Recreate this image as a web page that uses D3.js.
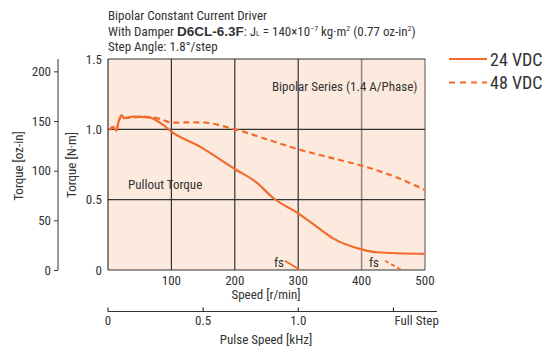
<!DOCTYPE html>
<html><head><meta charset="utf-8">
<script src="https://cdn.jsdelivr.net/npm/d3@7"></script>
<style>
body{margin:0;background:#fff;}
svg text{font-family:"Liberation Sans Narrow","Roboto Condensed","Liberation Sans",Arial,sans-serif;fill:#333;}
</style></head>
<body><svg id="c" width="551" height="346"></svg>
<script>
// Data (speed r/min, torque N·m)
const speed24 = [3, 8, 13, 17, 22, 25, 40, 66, 87, 100, 145, 200, 234, 261, 300, 329, 355, 400, 424, 500];
const torque24 = [0.996, 1.017, 0.99, 1.06, 1.10, 1.08, 1.09, 1.083, 1.031, 0.984, 0.877, 0.718, 0.623, 0.51, 0.403, 0.308, 0.225, 0.147, 0.126, 0.114];
const speed48 = [3, 8, 13, 17, 22, 25, 56, 82, 100, 145, 200, 250, 300, 355, 400, 445, 500];
const torque48 = [0.996, 1.017, 0.99, 1.06, 1.10, 1.08, 1.09, 1.074, 1.048, 1.05, 1.0, 0.93, 0.858, 0.794, 0.742, 0.676, 0.569];
const fs24Speed = [279, 303];
const fs24Torque = [0.066, 0];
const fs48Speed = [437, 463];
const fs48Torque = [0.066, 0];
const speedTicks = [100, 200, 300, 400, 500];
const nmTicks = [0, 0.5, 1.0, 1.5];
const nmTickLabels = ["0", "0.5", "1.0", "1.5"];
const ozTicks = [0, 50, 100, 150, 200];
const pulseTicks = [0, 0.5, 1.0, 1.5];
const pulseTickLabels = ["0", "0.5", "1.0", "Full Step"];
const seriesNames = ["24 VDC", "48 VDC"];

const svg = d3.select("#c");
const orange = "#f26b2d";
const x = d3.scaleLinear().domain([0, 500]).range([108, 425]);
const y = d3.scaleLinear().domain([0, 1.5]).range([270, 59]);
const yOz = d3.scaleLinear().domain([0, 1.5 * 141.612]).range([270, 59]);
const xPulse = d3.scaleLinear().domain([0, 1.0]).range([108, 298.3]);

// Titles
const t = svg.append("g").attr("font-size", 13);
t.append("text").attr("x", 108).attr("y", 20).text("Bipolar Constant Current Driver");
const t2 = t.append("text").attr("x", 108).attr("y", 36);
t2.append("tspan").text("With Damper ");
t2.append("tspan").attr("font-weight", "bold").style("font-family", "'Liberation Sans',Arial,sans-serif").attr("font-size", 13.5).text("D6CL-6.3F");
t2.append("tspan").text(": J");
t2.append("tspan").attr("font-size", 8).text("L");
t2.append("tspan").text(" = 140×10");
t2.append("tspan").attr("font-size", 8).attr("dy", -5).text("−7");
t2.append("tspan").attr("dy", 5).text(" kg·m");
t2.append("tspan").attr("font-size", 8).attr("dy", -5).text("2");
t2.append("tspan").attr("dy", 5).text(" (0.77 oz-in");
t2.append("tspan").attr("font-size", 8).attr("dy", -5).text("2");
t2.append("tspan").attr("dy", 5).text(")");
t.append("text").attr("x", 108).attr("y", 51).text("Step Angle: 1.8°/step");

// Plot background
svg.append("rect").attr("x", x(0)).attr("y", y(1.5)).attr("width", x(500) - x(0)).attr("height", y(0) - y(1.5)).attr("fill", "#fdeadf");

// Grid
const grid = svg.append("g");
grid.selectAll("line.v").data(speedTicks).join("line")
  .attr("x1", d => x(d)).attr("x2", d => x(d)).attr("y1", y(0)).attr("y2", y(1.5))
  .attr("stroke", d => d >= 400 ? "#8c8585" : "#333").attr("stroke-width", d => d >= 400 ? 1.5 : 1.2);
grid.selectAll("line.h").data(nmTicks).join("line")
  .attr("x1", x(0)).attr("x2", x(500)).attr("y1", d => y(d)).attr("y2", d => y(d))
  .attr("stroke", "#333").attr("stroke-width", 1.2);
grid.append("line").attr("x1", x(0)).attr("x2", x(0)).attr("y1", y(0)).attr("y2", y(1.5)).attr("stroke", "#333").attr("stroke-width", 1.2);

// Curves
const line = d3.line().x(d => x(d[0])).y(d => y(d[1])).curve(d3.curveMonotoneX);
const lineStraight = d3.line().x(d => x(d[0])).y(d => y(d[1]));
const d24 = speed24.map((s, i) => [s, torque24[i]]);
const d48 = speed48.map((s, i) => [s, torque48[i]]);
svg.append("path").attr("d", line(d48)).attr("fill", "none").attr("stroke", orange).attr("stroke-width", 2.2).attr("stroke-dasharray", "6,4");
svg.append("path").attr("d", line(d24)).attr("fill", "none").attr("stroke", orange).attr("stroke-width", 2.2);
svg.append("path").attr("d", lineStraight(fs24Speed.map((s, i) => [s, fs24Torque[i]]))).attr("fill", "none").attr("stroke", orange).attr("stroke-width", 1.8);
svg.append("path").attr("d", lineStraight(fs48Speed.map((s, i) => [s, fs48Torque[i]]))).attr("fill", "none").attr("stroke", orange).attr("stroke-width", 1.8).attr("stroke-dasharray", "4,3");

// Annotations
svg.append("text").attr("x", 272).attr("y", 91).attr("font-size", 13).text("Bipolar Series (1.4 A/Phase)");
svg.append("text").attr("x", 128).attr("y", 189).attr("font-size", 13).text("Pullout Torque");
svg.append("text").attr("x", 274).attr("y", 267).attr("font-size", 13).text("fs");
svg.append("text").attr("x", 369).attr("y", 267).attr("font-size", 13).text("fs");

// N·m axis labels
svg.selectAll("text.nm").data(nmTicks).join("text")
  .attr("x", 102).attr("y", d => y(d) + 4.5).attr("text-anchor", "end").attr("font-size", 13)
  .text((d, i) => nmTickLabels[i]);

// oz-in axis
const ozAxis = svg.append("g").attr("transform", "translate(58,0)")
  .call(d3.axisLeft(yOz).tickValues(ozTicks).tickSize(4).tickPadding(3).tickFormat(d3.format("d")));
ozAxis.select(".domain").attr("stroke", "#333").attr("d", `M0,${y(1.5)}V${y(0)}`);
ozAxis.selectAll(".tick line").attr("stroke", "#333");
ozAxis.selectAll("text").attr("font-size", 13).style("font-family", null).attr("fill", "#333");

// Axis titles
svg.append("text").attr("transform", "translate(23,166) rotate(-90)").attr("text-anchor", "middle").attr("font-size", 13).text("Torque [oz-in]");
svg.append("text").attr("transform", "translate(76,165) rotate(-90)").attr("text-anchor", "middle").attr("font-size", 13).text("Torque [N·m]");

// Speed tick labels
svg.selectAll("text.sp").data(speedTicks).join("text")
  .attr("x", d => x(d)).attr("y", 285).attr("text-anchor", "middle").attr("font-size", 13).text(d => d);
svg.append("text").attr("x", 266).attr("y", 299).attr("text-anchor", "middle").attr("font-size", 13).text("Speed [r/min]");

// Pulse speed axis
const pg = svg.append("g");
pg.append("line").attr("x1", xPulse(0)).attr("x2", 437).attr("y1", 311.5).attr("y2", 311.5).attr("stroke", "#333").attr("stroke-width", 1.2);
pg.selectAll("line.pt").data(pulseTicks).join("line")
  .attr("x1", d => xPulse(d)).attr("x2", d => xPulse(d)).attr("y1", 311.5).attr("y2", 307.5).attr("stroke", "#333").attr("stroke-width", 1.2);
pg.selectAll("text.pt").data(pulseTicks).join("text")
  .attr("x", (d, i) => i === 3 ? xPulse(d) + 1 : xPulse(d)).attr("y", 325)
  .attr("text-anchor", (d, i) => i === 3 ? "start" : "middle").attr("font-size", 13)
  .text((d, i) => pulseTickLabels[i]);
svg.append("text").attr("x", 266).attr("y", 344).attr("text-anchor", "middle").attr("font-size", 13).text("Pulse Speed [kHz]");

// Legend
const lg = svg.append("g");
lg.append("line").attr("x1", 449).attr("x2", 487).attr("y1", 59).attr("y2", 59).attr("stroke", orange).attr("stroke-width", 2.2);
lg.append("line").attr("x1", 449).attr("x2", 487).attr("y1", 82.5).attr("y2", 82.5).attr("stroke", orange).attr("stroke-width", 2.2).attr("stroke-dasharray", "6,5");
lg.selectAll("text.lg").data(seriesNames).join("text")
  .attr("x", 490).attr("y", (d, i) => 65.5 + i * 23.5).attr("font-size", 18).text(d => d);
</script></body></html>
